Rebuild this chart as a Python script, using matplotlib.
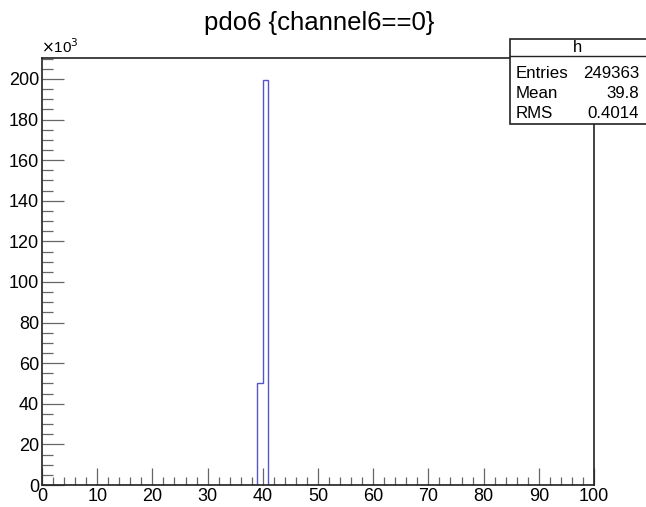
import numpy as np
import matplotlib.pyplot as plt
from matplotlib.patches import Rectangle
from matplotlib.lines import Line2D
from matplotlib.ticker import MultipleLocator, FuncFormatter

plt.rcParams['font.family'] = ['Liberation Sans', 'DejaVu Sans']

# histogram data (100 bins from 0 to 100, only two filled)
n_bins = 100
x_min, x_max = 0, 100
filled_bins = [39, 40]
filled_counts = [50000, 199363]

stat_names = ['Entries', 'Mean', 'RMS']
stat_values = ['249363', '39.8', '0.4014']

edges = np.linspace(x_min, x_max, n_bins + 1)
counts = np.zeros(n_bins)
for b, c in zip(filled_bins, filled_counts):
    counts[b] = c

W, H = 646, 507
fig = plt.figure(figsize=(W / 100, H / 100), dpi=100)
fig.patch.set_facecolor('white')

# axes box in pixels: left 42, right 594, top 58, bottom 485
ax = fig.add_axes([42 / W, 1 - 485 / H, (594 - 42) / W, (485 - 58) / H])
ax.stairs(counts, edges, color='#5555cc', lw=1.0)

ax.set_xlim(x_min, x_max)
ax.set_ylim(0, 210300)

ax.xaxis.set_major_locator(MultipleLocator(10))
ax.xaxis.set_minor_locator(MultipleLocator(2))
ax.yaxis.set_major_locator(MultipleLocator(20000))
ax.yaxis.set_minor_locator(MultipleLocator(5000))
ax.yaxis.set_major_formatter(FuncFormatter(lambda v, p: f'{v / 1000:.0f}'))

ax.tick_params(which='both', direction='in', top=False, right=False,
               color='#666666', labelsize=13)
ax.tick_params(axis='y', which='major', length=16, width=0.9, pad=2)
ax.tick_params(axis='y', which='minor', length=8, width=0.9)
ax.tick_params(axis='x', which='major', length=12, width=0.9, pad=2.5)
ax.tick_params(axis='x', which='minor', length=6, width=0.9)

for s in ax.spines.values():
    s.set_color('#222222')
    s.set_linewidth(1.2)

fig.text(319 / W, 1 - 23 / H, 'pdo6 {channel6==0}', fontsize=18.5,
         ha='center', va='center')

fig.text(41 / W, 1 - 47 / H, r'$\times$10$^{3}$', fontsize=11,
         ha='left', va='center')

# stats box
bx0, bx1, by0, by1, bhead = 510, 652, 39, 124, 56
fig.add_artist(Rectangle((bx0 / W, 1 - by1 / H), (bx1 - bx0) / W, (by1 - by0) / H,
                         transform=fig.transFigure, facecolor='white',
                         edgecolor='#222222', lw=1.2, zorder=10))
fig.add_artist(Line2D([bx0 / W, bx1 / W], [1 - bhead / H, 1 - bhead / H],
                      transform=fig.transFigure, color='#222222', lw=1, zorder=11))
fig.text((bx0 + 68) / W, 1 - 47.5 / H, 'h', fontsize=12, ha='center',
         va='center', zorder=12)
row_y = [73, 93, 113]
for name, val, y in zip(stat_names, stat_values, row_y):
    fig.text(516 / W, 1 - y / H, name, fontsize=12.2, ha='left', va='center', zorder=12)
    fig.text(639 / W, 1 - y / H, val, fontsize=12.2, ha='right', va='center', zorder=12)

fig.savefig('out.png', dpi=100)
